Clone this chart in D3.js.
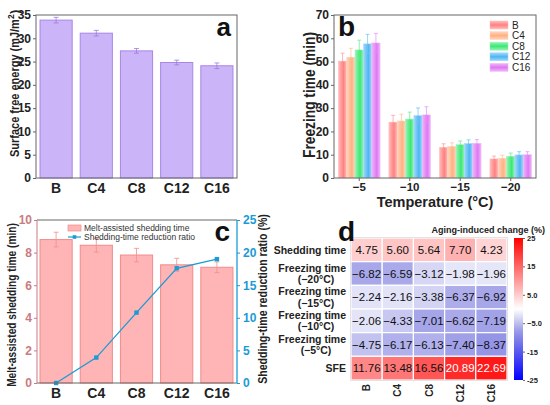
<!DOCTYPE html>
<html>
<head>
<meta charset="utf-8">
<style>
  body { margin: 0; background: #fff; }
  svg { font-family: Arial, "Liberation Sans", sans-serif; }
</style>
</head>
<body>
<script src="https://cdn.jsdelivr.net/npm/d3@7"></script>
<script>
// ---- data ----
var samples = ["B", "C4", "C8", "C12", "C16"];
var sfe = [33.9, 31.1, 27.3, 24.8, 24.1];
var sfeErr = [0.6, 0.6, 0.5, 0.5, 0.6];

var temps = ["\u22125", "\u221210", "\u221215", "\u221220"];
var freezeB = [50.2, 24.0, 13.2, 8.2];
var freezeC4 = [51.9, 24.5, 13.6, 8.5];
var freezeC8 = [55.0, 25.3, 14.3, 9.3];
var freezeC12 = [57.6, 26.8, 14.8, 9.9];
var freezeC16 = [58.0, 27.1, 14.9, 10.0];
var freezeErrB = [3.4, 2.9, 1.5, 1.2];
var freezeErrC4 = [3.8, 2.9, 1.5, 1.3];
var freezeErrC8 = [4.2, 3.0, 1.6, 1.4];
var freezeErrC12 = [4.1, 3.3, 1.6, 1.4];
var freezeErrC16 = [4.1, 3.5, 1.6, 1.3];

var shedding = [8.8, 8.45, 7.85, 7.25, 7.1];
var sheddingErr = [0.45, 0.42, 0.41, 0.4, 0.33];
var reduction = [0, 3.9, 10.8, 17.6, 19.0];

var rowLabels = [["Shedding time"], ["Freezing time", "(\u221220\u00b0C)"], ["Freezing time", "(\u221215\u00b0C)"],
                 ["Freezing time", "(\u221210\u00b0C)"], ["Freezing time", "(\u22125\u00b0C)"], ["SFE"]];
var changeShed = [4.75, 5.60, 5.64, 7.70, 4.23];
var changeF20 = [-6.82, -6.59, -3.12, -1.98, -1.96];
var changeF15 = [-2.24, -2.16, -3.38, -6.37, -6.92];
var changeF10 = [-2.06, -4.33, -7.01, -6.62, -7.19];
var changeF5 = [-4.75, -6.17, -6.13, -7.40, -8.37];
var changeSFE = [11.76, 13.48, 16.56, 20.89, 22.69];
var cbTicks = [25, 15, 5, -5, -15, -25];

var W = 550, H = 405;
var svg = d3.select("body").append("svg").attr("width", W).attr("height", H);
var defs = svg.append("defs");
var frameCol = "#666";

function frame(x0, y0, x1, y1) {
  svg.append("rect").attr("x", x0).attr("y", y0).attr("width", x1 - x0).attr("height", y1 - y0)
    .attr("fill", "none").attr("stroke", frameCol).attr("stroke-width", 1);
}
function boldAxis(g, col) {
  g.selectAll("text").attr("font-weight", "bold").attr("font-family", "Arial, 'Liberation Sans', sans-serif")
    .attr("fill", col || "#222");
  g.selectAll("line").attr("stroke", col || frameCol);
  g.select(".domain").remove();
}
// rotated axis title, squeezed along its length to what the chart shows
function vTitle(x, y, size, len, txt, anchor) {
  var t = svg.append("text").attr("text-anchor", anchor || "middle").attr("font-weight", "bold")
    .attr("font-size", size).attr("fill", "#222").text(txt);
  var k = Math.min(1, len / t.node().getComputedTextLength());
  t.attr("transform", "translate(" + x + "," + y + ") rotate(-90) scale(" + k + ",1)");
  return t;
}

// ================= panel a =================
var xa = d3.scaleBand().domain(samples).range([36, 237]).paddingInner(0.2).paddingOuter(0.1);
var ya = d3.scaleLinear().domain([0, 35]).range([178, 15]);

svg.append("g").selectAll("rect").data(sfe).enter().append("rect")
  .attr("x", function(d, i) { return xa(samples[i]); })
  .attr("y", function(d) { return ya(d); })
  .attr("width", xa.bandwidth())
  .attr("height", function(d) { return ya(0) - ya(d); })
  .attr("fill", "#cbb4f7").attr("stroke", "#a886ea").attr("stroke-width", 1);

var errA = svg.append("g").attr("stroke", "#a07ce0").attr("stroke-width", 0.8);
sfe.forEach(function(d, i) {
  var cx = xa(samples[i]) + xa.bandwidth() / 2;
  errA.append("line").attr("x1", cx).attr("x2", cx).attr("y1", ya(d - sfeErr[i])).attr("y2", ya(d + sfeErr[i]));
  errA.append("line").attr("x1", cx - 2.5).attr("x2", cx + 2.5).attr("y1", ya(d - sfeErr[i])).attr("y2", ya(d - sfeErr[i]));
  errA.append("line").attr("x1", cx - 2.5).attr("x2", cx + 2.5).attr("y1", ya(d + sfeErr[i])).attr("y2", ya(d + sfeErr[i]));
});
frame(36, 15, 237, 178);
var gya = svg.append("g").attr("transform", "translate(36,0)")
  .call(d3.axisLeft(ya).tickValues(d3.range(0, 36, 5)).tickSize(3).tickPadding(2));
gya.selectAll("text").attr("font-size", 12);
boldAxis(gya);
var gxa = svg.append("g").attr("transform", "translate(0,178)")
  .call(d3.axisBottom(xa).tickSize(0).tickPadding(5));
gxa.selectAll("text").attr("font-size", 14);
boldAxis(gxa);
vTitle(19, 157, 13.5, 138, "Surface free energy (mJ/m", "start");
svg.append("text").attr("transform", "translate(14,19) rotate(-90)").attr("text-anchor", "start")
  .attr("font-weight", "bold").attr("font-size", 8.5).attr("fill", "#222").text("2");
svg.append("text").attr("transform", "translate(19,14) rotate(-90)").attr("text-anchor", "start")
  .attr("font-weight", "bold").attr("font-size", 13.5).attr("fill", "#222").text(")");
svg.append("text").attr("x", 231).attr("y", 36).attr("text-anchor", "end")
  .attr("font-weight", "bold").attr("font-size", 26).attr("fill", "#111").text("a");

// ================= panel b =================
var seriesB = [
  { name: "B", vals: freezeB, err: freezeErrB, col: "#ff6a6a" },
  { name: "C4", vals: freezeC4, err: freezeErrC4, col: "#ffa26c" },
  { name: "C8", vals: freezeC8, err: freezeErrC8, col: "#18e45c" },
  { name: "C12", vals: freezeC12, err: freezeErrC12, col: "#2ea8f2" },
  { name: "C16", vals: freezeC16, err: freezeErrC16, col: "#d95ff2" }
];
seriesB.forEach(function(s, k) {
  var light = d3.interpolateRgb(s.col, "#fff")(0.55);
  var mid = d3.interpolateRgb(s.col, "#fff")(0.15);
  var g = defs.append("linearGradient").attr("id", "gh" + k).attr("x1", 0).attr("x2", 1).attr("y1", 0).attr("y2", 0);
  g.append("stop").attr("offset", 0).attr("stop-color", light);
  g.append("stop").attr("offset", 0.6).attr("stop-color", mid);
  g.append("stop").attr("offset", 1).attr("stop-color", light);
  var gv = defs.append("linearGradient").attr("id", "gv" + k).attr("x1", 0).attr("x2", 0).attr("y1", 0).attr("y2", 1);
  gv.append("stop").attr("offset", 0).attr("stop-color", light);
  gv.append("stop").attr("offset", 0.5).attr("stop-color", mid);
  gv.append("stop").attr("offset", 1).attr("stop-color", light);
  s.light = light;
});

var xb = d3.scaleBand().domain(temps).range([334, 536]).paddingInner(0.175).paddingOuter(0.0875);
var xs = d3.scaleBand().domain(seriesB.map(function(s) { return s.name; })).range([0, xb.bandwidth()]);
var yb = d3.scaleLinear().domain([0, 70]).range([178, 15]);

seriesB.forEach(function(s, k) {
  svg.append("g").selectAll("rect").data(s.vals).enter().append("rect")
    .attr("x", function(d, i) { return xb(temps[i]) + xs(s.name); })
    .attr("y", function(d) { return yb(d); })
    .attr("width", xs.bandwidth())
    .attr("height", function(d) { return yb(0) - yb(d); })
    .attr("fill", "url(#gh" + k + ")").attr("stroke", s.light).attr("stroke-width", 0.5);
  var ge = svg.append("g").attr("stroke", d3.interpolateRgb(s.col, "#fff")(0.3)).attr("stroke-width", 0.7);
  s.vals.forEach(function(d, i) {
    var cx = xb(temps[i]) + xs(s.name) + xs.bandwidth() / 2;
    ge.append("line").attr("x1", cx).attr("x2", cx).attr("y1", yb(d - s.err[i])).attr("y2", yb(d + s.err[i]));
    ge.append("line").attr("x1", cx - 2).attr("x2", cx + 2).attr("y1", yb(d + s.err[i])).attr("y2", yb(d + s.err[i]));
    ge.append("line").attr("x1", cx - 2).attr("x2", cx + 2).attr("y1", yb(d - s.err[i])).attr("y2", yb(d - s.err[i]));
  });
});
frame(334, 15, 536, 178);
var gyb = svg.append("g").attr("transform", "translate(334,0)")
  .call(d3.axisLeft(yb).tickValues(d3.range(0, 71, 10)).tickSize(3).tickPadding(2));
gyb.selectAll("text").attr("font-size", 12);
boldAxis(gyb);
var gxb = svg.append("g").attr("transform", "translate(0,178)")
  .call(d3.axisBottom(xb).tickSize(3).tickPadding(2));
gxb.selectAll("text").attr("font-size", 11.5);
boldAxis(gxb);
svg.append("text").attr("x", 435).attr("y", 206.5).attr("text-anchor", "middle")
  .attr("font-weight", "bold").attr("font-size", 14.5).attr("fill", "#222").text("Temperature (\u00b0C)");
vTitle(315, 95, 16, 126, "Freezing time (min)");
svg.append("text").attr("x", 338).attr("y", 36)
  .attr("font-weight", "bold").attr("font-size", 28).attr("fill", "#111").text("b");

var legB = svg.append("g");
seriesB.forEach(function(s, k) {
  var yy = 25 + k * 10.6;
  legB.append("rect").attr("x", 490).attr("y", yy - 4).attr("width", 18).attr("height", 8)
    .attr("fill", "url(#gv" + k + ")").attr("stroke", s.light).attr("stroke-width", 0.5);
  legB.append("text").attr("x", 512).attr("y", yy + 3.5).attr("font-size", 10).attr("fill", "#222").text(s.name);
});

// ================= panel c =================
var yc = d3.scaleLinear().domain([0, 10]).range([383, 220]);
var yr = d3.scaleLinear().domain([0, 25]).range([383, 220]);
var roseCol = "#c97b80", blueCol = "#1b9bd6";

svg.append("g").selectAll("rect").data(shedding).enter().append("rect")
  .attr("x", function(d, i) { return xa(samples[i]); })
  .attr("y", function(d) { return yc(d); })
  .attr("width", xa.bandwidth())
  .attr("height", function(d) { return yc(0) - yc(d); })
  .attr("fill", "#ffb5b5").attr("stroke", "#f28a8a").attr("stroke-width", 1);
var errC = svg.append("g").attr("stroke", "#f08f8f").attr("stroke-width", 0.8);
shedding.forEach(function(d, i) {
  var cx = xa(samples[i]) + xa.bandwidth() / 2;
  errC.append("line").attr("x1", cx).attr("x2", cx).attr("y1", yc(d - sheddingErr[i])).attr("y2", yc(d + sheddingErr[i]));
  errC.append("line").attr("x1", cx - 2.5).attr("x2", cx + 2.5).attr("y1", yc(d + sheddingErr[i])).attr("y2", yc(d + sheddingErr[i]));
  errC.append("line").attr("x1", cx - 2.5).attr("x2", cx + 2.5).attr("y1", yc(d - sheddingErr[i])).attr("y2", yc(d - sheddingErr[i]));
});
var line = d3.line()
  .x(function(d, i) { return xa(samples[i]) + xa.bandwidth() / 2; })
  .y(function(d) { return yr(d); });
svg.append("path").datum(reduction).attr("d", line).attr("fill", "none").attr("stroke", blueCol).attr("stroke-width", 1.3);
svg.append("g").selectAll("rect").data(reduction).enter().append("rect")
  .attr("x", function(d, i) { return xa(samples[i]) + xa.bandwidth() / 2 - 2.2; })
  .attr("y", function(d) { return yr(d) - 2.2; })
  .attr("width", 4.4).attr("height", 4.4).attr("fill", blueCol);

// frame: top/bottom gray, sides coloured
svg.append("line").attr("x1", 37).attr("x2", 237).attr("y1", 220).attr("y2", 220).attr("stroke", frameCol);
svg.append("line").attr("x1", 37).attr("x2", 237).attr("y1", 383).attr("y2", 383).attr("stroke", frameCol);
svg.append("line").attr("x1", 37).attr("x2", 37).attr("y1", 220).attr("y2", 383).attr("stroke", roseCol);
svg.append("line").attr("x1", 237).attr("x2", 237).attr("y1", 220).attr("y2", 383).attr("stroke", blueCol).attr("stroke-width", 1.3);

var gyc = svg.append("g").attr("transform", "translate(37,0)")
  .call(d3.axisLeft(yc).tickValues(d3.range(0, 11, 2)).tickSize(3).tickPadding(2));
gyc.selectAll("text").attr("font-size", 12);
boldAxis(gyc, roseCol);
var gyr = svg.append("g").attr("transform", "translate(237,0)")
  .call(d3.axisRight(yr).tickValues(d3.range(0, 26, 5)).tickSize(3).tickPadding(3));
gyr.selectAll("text").attr("font-size", 12);
boldAxis(gyr, blueCol);
var gxc = svg.append("g").attr("transform", "translate(0,383)")
  .call(d3.axisBottom(xa).tickSize(0).tickPadding(5));
gxc.selectAll("text").attr("font-size", 14);
boldAxis(gxc);
vTitle(16, 305, 12, 164, "Melt-assisted shedding time (min)");
vTitle(267, 299, 12, 170, "Shedding-time reduction ratio (%)");
svg.append("text").attr("x", 230).attr("y", 241).attr("text-anchor", "end")
  .attr("font-weight", "bold").attr("font-size", 28).attr("fill", "#111").text("c");

svg.append("rect").attr("x", 68).attr("y", 225).attr("width", 13).attr("height", 6)
  .attr("fill", "#ffb5b5").attr("stroke", "#f28a8a").attr("stroke-width", 0.7);
svg.append("text").attr("x", 84).attr("y", 231).attr("font-size", 8.5).attr("fill", "#333").text("Melt-assisted shedding time");
svg.append("line").attr("x1", 68).attr("x2", 81).attr("y1", 237).attr("y2", 237).attr("stroke", blueCol).attr("stroke-width", 1.2);
svg.append("rect").attr("x", 72.7).attr("y", 235.2).attr("width", 3.6).attr("height", 3.6).attr("fill", blueCol);
svg.append("text").attr("x", 84).attr("y", 240).attr("font-size", 8.5).attr("fill", "#333").text("Shedding-time reduction ratio");

// ================= panel d =================
var heatRows = [changeShed, changeF20, changeF15, changeF10, changeF5, changeSFE];
var xd = d3.scaleBand().domain(samples).range([351, 507]);
var yd = d3.scaleBand().domain(d3.range(heatRows.length)).range([238, 380]);
var color = d3.scaleLinear().domain([-25, -8, 0, 25])
  .range(["#0000ff", "#9898e6", "#ffffff", "#ff0000"]).clamp(true);

heatRows.forEach(function(row, r) {
  var g = svg.append("g");
  g.selectAll("rect").data(row).enter().append("rect")
    .attr("x", function(d, i) { return xd(samples[i]); })
    .attr("y", yd(r))
    .attr("width", xd.bandwidth()).attr("height", yd.bandwidth())
    .attr("fill", function(d) { return color(d); })
    .attr("stroke", "#fff").attr("stroke-width", 1.2);
  g.selectAll("text").data(row).enter().append("text")
    .attr("x", function(d, i) { return xd(samples[i]) + xd.bandwidth() / 2; })
    .attr("y", yd(r) + yd.bandwidth() / 2 + 4)
    .attr("text-anchor", "middle").attr("font-size", 11.5)
    .attr("fill", function(d) { return d > 18 ? "#fff" : "#111"; })
    .text(function(d) { return d.toFixed(2).replace("-", "\u2212"); });
});
svg.append("rect").attr("x", 350.5).attr("y", 237.5).attr("width", 157).attr("height", 143)
  .attr("fill", "none").attr("stroke", "#ddd").attr("stroke-width", 0.8);

rowLabels.forEach(function(lines, r) {
  var cy = yd(r) + yd.bandwidth() / 2;
  var t = svg.append("text").attr("font-weight", "bold").attr("font-size", 10.5).attr("fill", "#222");
  if (lines.length === 1) {
    t.attr("x", 346).attr("y", cy + 4).attr("text-anchor", "end").text(lines[0]);
  } else {
    t.append("tspan").attr("x", 346).attr("y", cy - 2).attr("text-anchor", "end").text(lines[0]);
    t.append("tspan").attr("x", 316).attr("y", cy + 9.5).attr("text-anchor", "middle").text(lines[1]);
  }
});
samples.forEach(function(s) {
  svg.append("text")
    .attr("transform", "translate(" + (xd(s) + xd.bandwidth() / 2 + 3.5) + ",384) rotate(-90)")
    .attr("text-anchor", "end").attr("font-weight", "bold").attr("font-size", 10).attr("fill", "#222").text(s);
});
svg.append("text").attr("x", 338).attr("y", 241)
  .attr("font-weight", "bold").attr("font-size", 28).attr("fill", "#111").text("d");

// colour bar
var cbScale = d3.scaleLinear().domain([-25, 25]).range([380, 238]);
var cbGrad = defs.append("linearGradient").attr("id", "cb").attr("x1", 0).attr("x2", 0).attr("y1", 1).attr("y2", 0);
d3.range(0, 1.001, 0.05).forEach(function(t) {
  cbGrad.append("stop").attr("offset", t).attr("stop-color", color(-25 + 50 * t));
});
svg.append("rect").attr("x", 514).attr("y", 238).attr("width", 9).attr("height", 142).attr("fill", "url(#cb)");
var gcb = svg.append("g").attr("transform", "translate(523,0)")
  .call(d3.axisRight(cbScale).tickValues(cbTicks).tickSize(2).tickPadding(2)
    .tickFormat(function(d) { return Math.abs(d) === 5 ? d3.format(".1f")(d) : d; }));
gcb.selectAll("text").attr("font-size", 7.5);
boldAxis(gcb);
svg.append("text").attr("x", 545).attr("y", 233).attr("text-anchor", "end")
  .attr("font-weight", "bold").attr("font-size", 9).attr("fill", "#222").text("Aging-induced change (%)");
</script>
</body>
</html>
